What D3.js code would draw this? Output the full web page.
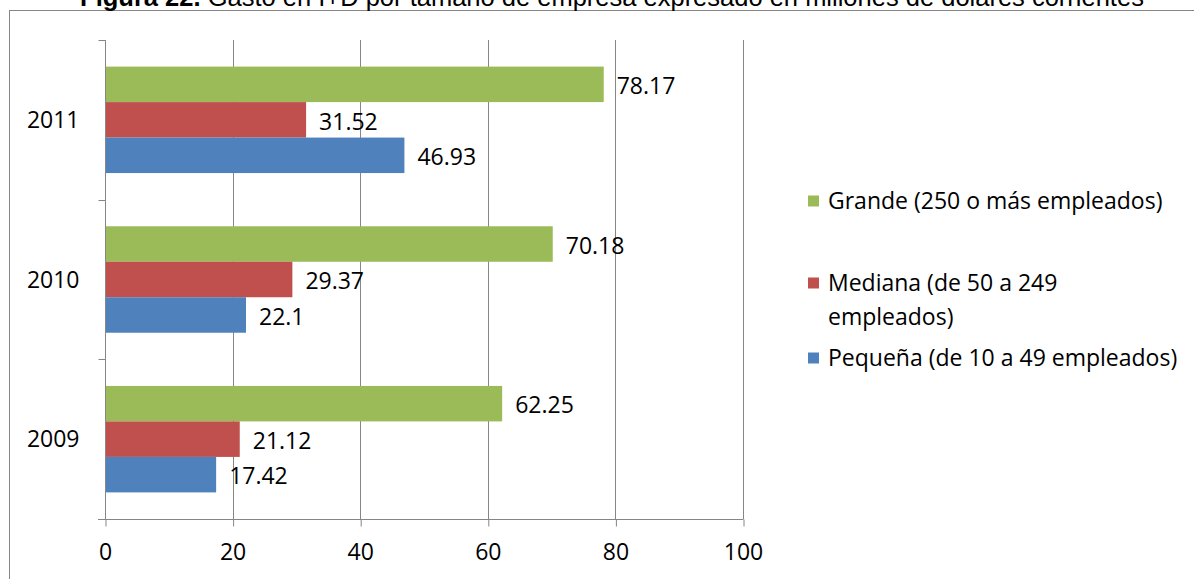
<!DOCTYPE html>
<html>
<head>
<meta charset="utf-8">
<script src="https://cdn.jsdelivr.net/npm/d3@7/dist/d3.min.js"></script>
<style>
  html, body { margin: 0; padding: 0; background: #fff; }
  svg { display: block; }
  text { font-family: "Open Sans", "Noto Sans", sans-serif; fill: #000; }
</style>
</head>
<body>
<svg id="chart" width="1194" height="579"></svg>
<script>
// Gasto en I+D por tamaño de empresa (millones de dólares corrientes)
const years = ["2011", "2010", "2009"];
const seriesNames = ["Grande (250 o más empleados)", "Mediana (de 50 a 249 empleados)", "Pequeña (de 10 a 49 empleados)"];
const grande = [78.17, 70.18, 62.25];
const mediana = [31.52, 29.37, 21.12];
const pequena = [46.93, 22.1, 17.42];
const valueLabels = [["78.17", "70.18", "62.25"], ["31.52", "29.37", "21.12"], ["46.93", "22.1", "17.42"]];
const xTicks = [0, 20, 40, 60, 80, 100];
const legendLines = [["Grande (250 o más empleados)"], ["Mediana (de 50 a 249", "empleados)"], ["Pequeña (de 10 a 49 empleados)"]];
const colors = ["#9BBB59", "#C0504D", "#4F81BD"];

const seriesValues = [grande, mediana, pequena];
const svg = d3.select("#chart");
const grid = "#868686";

// chart frame (extends past the visible page on the right and bottom)
svg.append("rect")
  .attr("x", 9.5).attr("y", 10.5)
  .attr("width", 1400).attr("height", 800)
  .attr("fill", "none").attr("stroke", grid).attr("stroke-width", 1);

// title, sitting just above the frame
const title = svg.append("text")
  .attr("x", 612).attr("y", 6)
  .attr("text-anchor", "middle")
  .style("font-family", "'Liberation Sans', Arial, sans-serif")
  .style("font-size", "25.5px");
title.append("tspan").style("font-weight", "bold").text("Figura 22.");
title.append("tspan").text(" Gasto en I+D por tamaño de empresa expresado en millones de dólares corrientes");

const x = d3.scaleLinear().domain([0, 100]).range([105, 743]);
const y = d3.scaleBand().domain(years).range([40, 519]);
const inner = d3.scaleBand().domain(d3.range(3)).range([0, y.bandwidth()]).paddingInner(0).paddingOuter(0.75);

// vertical gridlines
svg.append("g").selectAll("line")
  .data(xTicks.filter(d => d > 0))
  .join("line")
  .attr("x1", d => Math.round(x(d)) + 0.5).attr("x2", d => Math.round(x(d)) + 0.5)
  .attr("y1", 40).attr("y2", 519)
  .attr("stroke", grid).attr("stroke-width", 1);

// bars
const rows = [];
years.forEach((yr, i) => seriesValues.forEach((vals, s) => rows.push({ yr, s, v: vals[i], label: valueLabels[s][i] })));

svg.append("g").selectAll("rect")
  .data(rows)
  .join("rect")
  .attr("x", x(0))
  .attr("y", d => y(d.yr) + inner(d.s))
  .attr("width", d => x(d.v) - x(0))
  .attr("height", inner.bandwidth())
  .attr("fill", d => colors[d.s]);

// value labels
svg.append("g").selectAll("text")
  .data(rows)
  .join("text")
  .attr("x", d => x(d.v) + 13)
  .attr("y", d => y(d.yr) + inner(d.s) + inner.bandwidth() / 2 + 1.5)
  .attr("dy", "0.36em")
  .style("font-size", "23px")
  .text(d => d.label);

// x axis
const xAxis = d3.axisBottom(x).tickValues(xTicks).tickSize(7).tickPadding(17).tickFormat(d3.format("d"));
const gx = svg.append("g").attr("transform", "translate(0,519.5)").call(xAxis);
gx.select(".domain").attr("stroke", grid).attr("d", "M98,0H743.5");
gx.selectAll(".tick line").attr("stroke", grid).attr("transform", "translate(0.5,0)");
gx.selectAll(".tick text").style("font-size", "23px").style("font-family", "'Open Sans', sans-serif").attr("fill", "#000");

// category axis
const gy = svg.append("g").attr("transform", "translate(105.5,0)");
gy.append("line").attr("x1", 0).attr("x2", 0).attr("y1", 40).attr("y2", 519.5).attr("stroke", grid);
gy.selectAll("line.tk")
  .data(years.map(d => y(d)).concat([519]))
  .join("line").attr("class", "tk")
  .attr("x1", -7).attr("x2", 0)
  .attr("y1", d => Math.round(d) + 0.5).attr("y2", d => Math.round(d) + 0.5)
  .attr("stroke", grid);
gy.selectAll("text")
  .data(years)
  .join("text")
  .attr("x", -26)
  .attr("y", d => y(d) + y.bandwidth() / 2)
  .attr("dy", "0.36em")
  .attr("text-anchor", "end")
  .style("font-size", "23px")
  .text(d => d);

// legend
const legendY = [201, 283, 358];
const lg = svg.append("g");
legendLines.forEach((lines, i) => {
  lg.append("rect")
    .attr("x", 808).attr("y", legendY[i] - 5.5)
    .attr("width", 11).attr("height", 11)
    .attr("fill", colors[i]);
  lines.forEach((ln, j) => {
    lg.append("text")
      .attr("x", 828).attr("y", legendY[i] + j * 34)
      .attr("dy", "0.36em")
      .style("font-size", "23px")
      .text(ln);
  });
});
</script>
</body>
</html>
